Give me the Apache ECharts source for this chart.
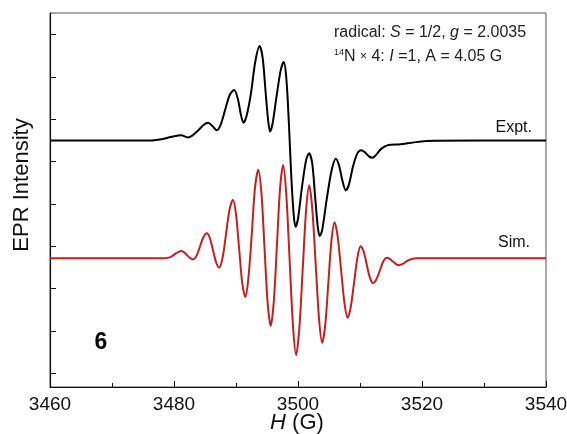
<!DOCTYPE html>
<html>
<head>
<meta charset="utf-8">
<script src="https://cdn.jsdelivr.net/npm/echarts@6/dist/echarts.min.js"></script>
<style>html,body{margin:0;padding:0;background:#fff;}#c{width:567px;height:434px;}</style>
</head>
<body>
<div id="c"></div>
<script>
// Magnetic field (G) and intensity (arbitrary units)
const xTicks = [3460, 3480, 3500, 3520, 3540];
const yTickMarks = [0, 10, 20, 30, 40, 50, 60, 70, 80];

const exptField = [3460, 3476, 3478, 3479.5, 3481.2, 3482.2, 3483.0, 3484.0, 3484.8, 3485.5, 3486.2, 3486.9, 3487.5, 3488.3, 3489.0, 3489.7, 3490.3, 3490.8, 3491.2, 3491.7, 3492.4, 3493.1, 3493.8, 3494.3, 3494.8, 3495.2, 3495.5, 3495.9, 3496.5, 3497.2, 3497.7, 3498.1, 3498.5, 3498.9, 3499.3, 3499.6, 3500.0, 3500.6, 3501.3, 3501.8, 3502.3, 3502.8, 3503.2, 3503.5, 3503.9, 3504.6, 3505.4, 3506.1, 3506.6, 3507.2, 3507.7, 3508.2, 3508.9, 3509.6, 3510.2, 3510.8, 3511.4, 3512.0, 3512.6, 3513.4, 3514.6, 3516.5, 3519, 3522, 3540];
const exptValue = [55, 55, 55.3, 55.8, 56.2, 55.7, 56.2, 57.5, 58.7, 59.2, 58.4, 57.4, 58.6, 62.5, 65.8, 66.9, 64.8, 61.0, 59.2, 60.8, 66, 73.5, 77.3, 74.5, 66, 59.5, 57.1, 59, 65, 71.5, 73.5, 70, 60, 47, 37.5, 34.6, 36.5, 43.5, 50.3, 52.0, 49.5, 41, 34.5, 32.4, 33.8, 40.8, 47.8, 50.7, 49.2, 45.3, 43.2, 44.5, 49, 52, 52.7, 52.2, 51.3, 50.9, 51.6, 53.0, 53.9, 54.1, 54.6, 54.9, 55];

const simField = [3460, 3478.5, 3479.5, 3480.3, 3481.1, 3481.6, 3482.1, 3482.6, 3483.1, 3483.65, 3484.2, 3484.75, 3485.3, 3485.8, 3486.3, 3486.8, 3487.3, 3487.85, 3488.4, 3488.95, 3489.5, 3490.0, 3490.5, 3491.0, 3491.5, 3492.0, 3492.55, 3493.05, 3493.6, 3494.1, 3494.6, 3495.1, 3495.6, 3496.1, 3496.6, 3497.1, 3497.6, 3498.1, 3498.65, 3499.2, 3499.7, 3500.2, 3500.75, 3501.3, 3501.8, 3502.3, 3502.85, 3503.4, 3503.9, 3504.4, 3504.9, 3505.4, 3505.9, 3506.4, 3506.95, 3507.5, 3508.0, 3508.5, 3509.05, 3509.6, 3510.1, 3510.6, 3511.1, 3511.6, 3512.1, 3512.65, 3513.2, 3513.75, 3514.3, 3514.8, 3515.3, 3515.8, 3516.3, 3517.0, 3517.8, 3519, 3540];
const simValue = [27.2, 27.2, 27.5, 28.3, 28.9, 28.6, 27.9, 27.2, 26.9, 27.8, 30.0, 32.2, 33.1, 31.9, 29.0, 26.2, 25.0, 27.4, 33.0, 38.6, 41.0, 37.6, 29.5, 21.4, 18.0, 22.5, 33.0, 43.6, 48.1, 42.6, 29.6, 16.7, 11.2, 17.0, 30.2, 43.5, 49.2, 42.5, 26.7, 11.0, 4.3, 10.3, 24.3, 38.4, 44.4, 38.9, 25.8, 12.7, 7.2, 11.5, 21.5, 31.4, 35.7, 32.3, 24.4, 16.5, 13.1, 15.6, 21.5, 27.5, 30.0, 28.7, 25.6, 22.6, 21.3, 22.2, 24.3, 26.4, 27.3, 27.0, 26.4, 25.8, 25.5, 25.9, 26.7, 27.2, 27.2];

const FONT = 'Arial, "Liberation Sans", sans-serif';
const zip = (a, b) => a.map((v, i) => [v, b[i]]);

const chart = echarts.init(document.getElementById('c'), null, {renderer: 'canvas'});
chart.setOption({
  animation: false,
  backgroundColor: '#fff',
  grid: {left: 50, right: 21, top: 13, bottom: 47, show: true, borderColor: '#555', borderWidth: 1, containLabel: false, outerBoundsMode: 'none'},
  xAxis: {
    type: 'value', min: xTicks[0], max: xTicks[xTicks.length - 1], interval: 20,
    axisLine: {show: true, onZero: false, lineStyle: {color: '#111', width: 1.2}},
    axisTick: {show: true, inside: true, length: 6, lineStyle: {color: '#111'}},
    minorTick: {show: true, splitNumber: 2, length: 4, lineStyle: {color: '#111'}},
    splitLine: {show: false},
    axisLabel: {fontSize: 19, color: '#111', fontFamily: FONT, margin: 8, showMinLabel: true, showMaxLabel: true, formatter: v => String(v)}
  },
  yAxis: {
    type: 'value', min: -3.24, max: 85.1,
    axisLine: {show: true, onZero: false, lineStyle: {color: '#111', width: 1.2}},
    axisTick: {show: true, inside: true, length: 6, customValues: yTickMarks, lineStyle: {color: '#111'}},
    axisLabel: {show: false},
    splitLine: {show: false}
  },
  series: [
    {type: 'line', data: zip(exptField, exptValue), smooth: 0.3, showSymbol: false, lineStyle: {color: '#000', width: 2}},
    {type: 'line', data: zip(simField, simValue), smooth: 0.3, showSymbol: false, lineStyle: {color: '#c81e1e', width: 2}}
  ],
  graphic: [
    {type: 'text', x: 22, y: 185, rotation: Math.PI / 2, style: {text: 'EPR Intensity', font: '22px ' + FONT, fill: '#111', align: 'center', verticalAlign: 'middle'}},
    {type: 'text', x: 297, y: 423, style: {
      text: '{i|H} (G)', font: '22px ' + FONT, fill: '#111', align: 'center', verticalAlign: 'middle',
      rich: {i: {fontStyle: 'italic', fontSize: 22, fontFamily: FONT, fill: '#111'}}}},
    {type: 'text', x: 334, y: 33, style: {
      text: 'radical: {i|S} = 1/2, {i|g} = 2.0035', font: '16px ' + FONT, fill: '#222', verticalAlign: 'middle',
      rich: {i: {fontStyle: 'italic', fontSize: 16, fontFamily: FONT, fill: '#222'}}}},
    {type: 'text', x: 334, y: 57, style: {
      text: '{sup|14}N {x|×} 4: {i|I} =1, A = 4.05 G', font: '16px ' + FONT, fill: '#222', verticalAlign: 'middle',
      rich: {
        sup: {fontSize: 9, fontFamily: FONT, fill: '#222', padding: [0, 0, 9, 0]},
        x: {fontSize: 12, fontFamily: FONT, fill: '#222'},
        i: {fontStyle: 'italic', fontSize: 16, fontFamily: FONT, fill: '#222'}}}},
    {type: 'text', x: 532, y: 128, style: {text: 'Expt.', font: '16px ' + FONT, fill: '#111', align: 'right', verticalAlign: 'middle'}},
    {type: 'text', x: 530, y: 243, style: {text: 'Sim.', font: '16px ' + FONT, fill: '#111', align: 'right', verticalAlign: 'middle'}},
    {type: 'text', x: 101, y: 343, style: {text: '6', font: 'bold 23px ' + FONT, fill: '#000', align: 'center', verticalAlign: 'middle'}}
  ]
});
</script>
</body>
</html>
